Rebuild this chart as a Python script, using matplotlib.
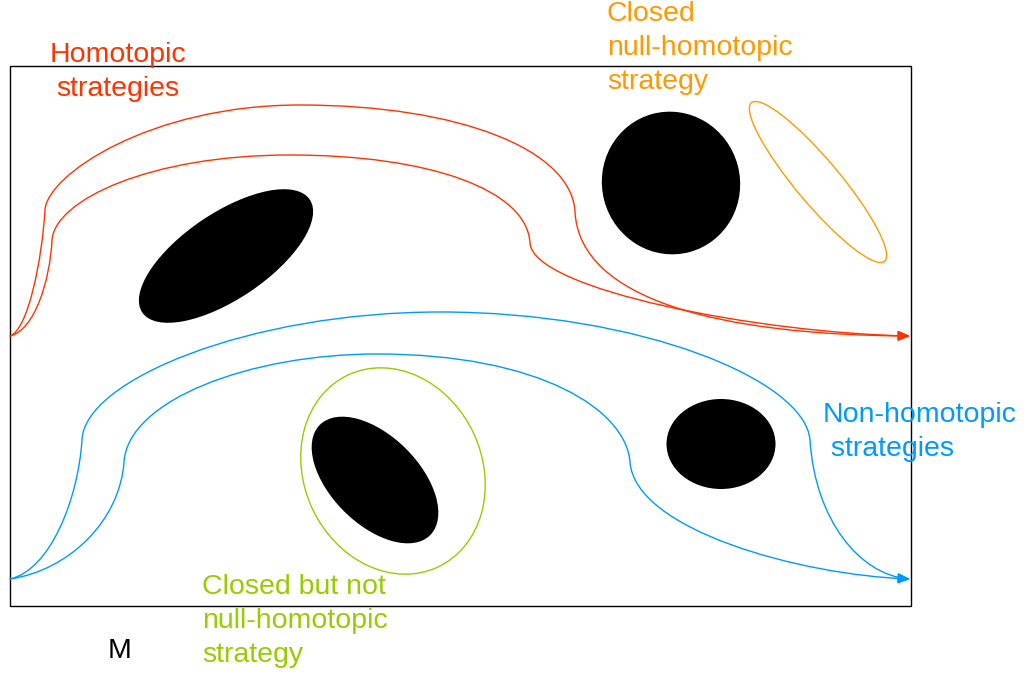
import matplotlib.pyplot as plt
from matplotlib.patches import Ellipse, Rectangle, FancyArrowPatch
from matplotlib.path import Path

plt.rcParams['font.family'] = ['Liberation Sans', 'DejaVu Sans']

# colours
RED = '#ff3300'
ORANGE = '#ff9900'
BLUE = '#0099ff'
GREEN = '#99cc00'

# frame of the space M (pixel coords, y down)
frame_xy = (10, 66)
frame_w, frame_h = 901, 540

# obstacles: centre, width, height, angle
holes_xy = [(226, 256), (671, 183), (375, 480), (721, 444)]
holes_w = [202, 143, 156, 109]
holes_h = [86, 138, 88, 90]
holes_angle = [-34, 75, 45, 0]

# closed loops: centre, width, height, angle, colour
loops_xy = [(818, 182), (393, 471)]
loops_w = [207, 212]
loops_h = [44, 178]
loops_angle = [50, 65]
loops_color = [ORANGE, GREEN]

# strategies as cubic bezier chains: start, then (c1, c2, end) triples
red_outer = [(10, 336),
             (28, 330), (42, 260), (45, 210),
             (47, 175), (150, 105), (300, 105),
             (460, 105), (572, 150), (575, 212),
             (580, 300), (720, 335), (910, 336)]
red_inner = [(10, 336),
             (35, 330), (50, 280), (52, 240),
             (55, 200), (150, 155), (290, 155),
             (430, 155), (527, 190), (530, 243),
             (533, 290), (760, 333), (910, 336)]
blue_outer = [(10, 579),
              (50, 570), (78, 500), (82, 440),
              (84, 380), (250, 312), (440, 312),
              (640, 312), (805, 380), (810, 440),
              (815, 520), (860, 575), (910, 579)]
blue_inner = [(10, 579),
              (70, 570), (120, 520), (124, 462),
              (128, 400), (250, 354), (377, 354),
              (540, 354), (626, 410), (630, 462),
              (635, 530), (800, 575), (910, 579)]

labels = ['Homotopic\nstrategies', 'Closed\nnull-homotopic\nstrategy',
          'Non-homotopic\n strategies', 'Closed but not\nnull-homotopic\nstrategy', 'M']
labels_xy = [(118, 72), (607, 48), (823, 432), (202, 621), (120, 651)]
labels_ha = ['center', 'left', 'left', 'left', 'center']
labels_color = [RED, ORANGE, BLUE, GREEN, 'black']

fig = plt.figure(figsize=(10.3, 6.77), dpi=100)
ax = fig.add_axes([0, 0, 1, 1])
ax.set_xlim(0, 1030)
ax.set_ylim(677, 0)
ax.axis('off')

ax.add_patch(Rectangle(frame_xy, frame_w, frame_h, fill=False, ec='black', lw=1.0))

for xy, w, h, a in zip(holes_xy, holes_w, holes_h, holes_angle):
    ax.add_patch(Ellipse(xy, w, h, angle=a, fc='black', ec='none'))

for xy, w, h, a, c in zip(loops_xy, loops_w, loops_h, loops_angle, loops_color):
    ax.add_patch(Ellipse(xy, w, h, angle=a, fill=False, ec=c, lw=1.0))

for pts, c in [(red_outer, RED), (red_inner, RED), (blue_outer, BLUE), (blue_inner, BLUE)]:
    codes = [Path.MOVETO] + [Path.CURVE4] * (len(pts) - 1)
    arrow = FancyArrowPatch(path=Path(pts, codes),
                            arrowstyle='-|>,head_length=0.36,head_width=0.15',
                            mutation_scale=20, color=c, lw=1.0)
    ax.add_patch(arrow)

for txt, xy, ha, c in zip(labels, labels_xy, labels_ha, labels_color):
    ax.text(xy[0], xy[1], txt, ha=ha, va='center', color=c, fontsize=20.5,
            linespacing=1.42)

fig.savefig('out.png', dpi=100)
